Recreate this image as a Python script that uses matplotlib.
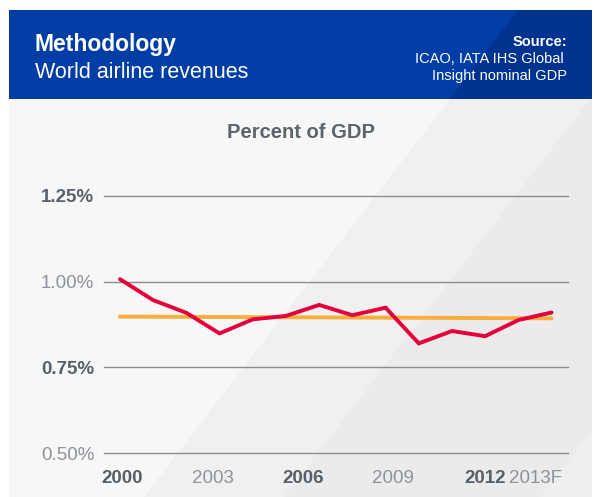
import matplotlib
matplotlib.use("Agg")
import matplotlib.pyplot as plt
from matplotlib.patches import Polygon

plt.rcParams['font.family'] = ['Liberation Sans', 'DejaVu Sans']

# data
years = list(range(2000, 2014))
revenue_pct = [1.007, 0.946, 0.909, 0.849, 0.890, 0.900, 0.932,
               0.902, 0.924, 0.820, 0.856, 0.841, 0.888, 0.910]
trend_years = [2000, 2013]
trend_pct = [0.898, 0.893]

y_ticks = [0.50, 0.75, 1.00, 1.25]
y_labels = ['0.50%', '0.75%', '1.00%', '1.25%']
y_bold = [False, True, False, True]

x_labels = ['2000', '2003', '2006', '2009', '2012', '2013F']
x_label_pos = [2000.08, 2002.80, 2005.51, 2008.22, 2010.99, 2012.53]
x_bold = [True, False, True, False, True, False]

W, H = 596, 497
DARK_TXT = '#58616a'
LIGHT_TXT = '#8d939a'


def px(x, y):
    # pixel coords (top-left origin) -> figure fraction
    return (x / W, 1 - y / H)


fig = plt.figure(figsize=(W / 100, H / 100), dpi=100)
fig.patch.set_facecolor('white')

# background panel with diagonal bands
def band(points, color):
    fig.add_artist(Polygon([px(*p) for p in points], closed=True,
                           transform=fig.transFigure, facecolor=color,
                           edgecolor='none', zorder=-10))

band([(9, 99), (592, 99), (592, 497), (9, 497)], '#f8f7f8')
band([(450, 99), (592, 99), (592, 497), (144, 497)], '#f1f0f1')
band([(590, 99), (592, 99), (592, 497), (284, 497)], '#ebebec')
band([(592, 430), (592, 497), (540, 497)], '#efefef')

# header
band([(9, 10), (592, 10), (592, 99), (9, 99)], '#003da5')
band([(518, 10), (592, 10), (592, 99), (450, 99)], '#00328f')

fig.text(*px(35, 45), 'Methodology', color='white', fontsize=16.5,
         fontweight='bold', va='center', ha='left')
fig.text(*px(35, 73), 'World airline revenues', color='white', fontsize=15.5,
         va='center', ha='left')
fig.text(*px(567, 42), 'Source:', color='white', fontsize=10.5,
         fontweight='bold', va='center', ha='right')
fig.text(*px(564, 59), 'ICAO, IATA IHS Global', color='white', fontsize=10.5,
         va='center', ha='right')
fig.text(*px(567, 76), 'Insight nominal GDP', color='white', fontsize=10.5,
         va='center', ha='right')

fig.text(*px(301, 132), 'Percent of GDP', color='#5b636b', fontsize=14.5,
         fontweight='bold', va='center', ha='center')

# plot area
ax = fig.add_axes([104 / W, (H - 453.3) / H, 463.7 / W, 257.6 / H])
ax.set_facecolor('none')
ax.set_xlim(1999.52, 2013.485)
ax.set_ylim(0.50, 1.25)
for s in ax.spines.values():
    s.set_visible(False)

for v in y_ticks:
    ax.axhline(v, color='#8c8c8c', lw=1.0, zorder=1, clip_on=False)

ax.plot(trend_years, trend_pct, color='#f8ae3a', lw=2.8,
        solid_capstyle='round', zorder=2, clip_on=False)
ax.plot(years, revenue_pct, color='#e4003b', lw=2.8,
        solid_capstyle='round', solid_joinstyle='miter', zorder=3, clip_on=False)

ax.set_yticks(y_ticks)
ax.set_yticklabels(y_labels, fontsize=13.5)
for lab, b in zip(ax.get_yticklabels(), y_bold):
    lab.set_fontweight('bold' if b else 'normal')
    lab.set_color(DARK_TXT if b else LIGHT_TXT)

ax.set_xticks(x_label_pos)
ax.set_xticklabels(x_labels, fontsize=13.5)
for lab, b in zip(ax.get_xticklabels(), x_bold):
    lab.set_fontweight('bold' if b else 'normal')
    lab.set_color(DARK_TXT if b else LIGHT_TXT)

ax.tick_params(axis='both', length=0)
ax.tick_params(axis='y', pad=7)
ax.tick_params(axis='x', pad=12)

fig.savefig('out.png', dpi=100)
